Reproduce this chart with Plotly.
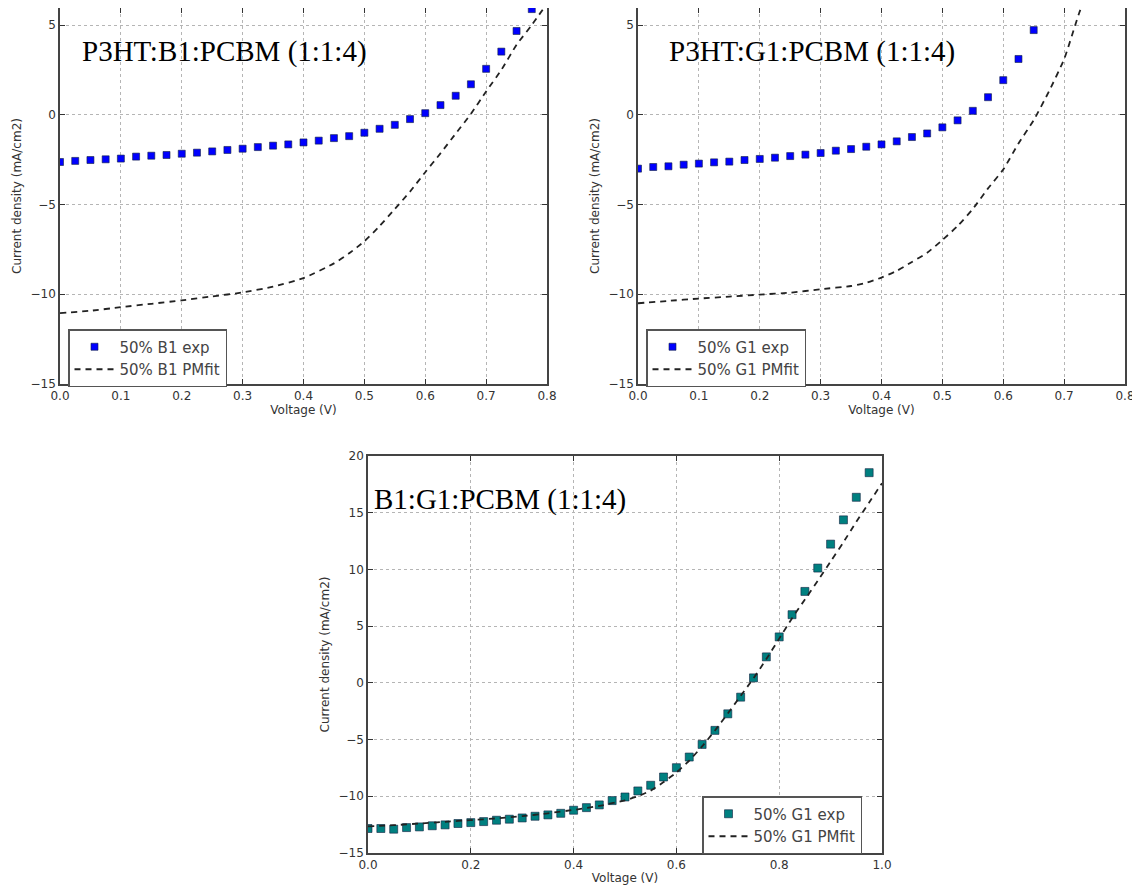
import plotly.graph_objects as go

# ---------------- data ----------------
# Panel 1: P3HT:B1:PCBM (1:1:4)
b1_exp_v = [0.0, 0.025, 0.05, 0.075, 0.1, 0.125, 0.15, 0.175, 0.2, 0.225, 0.25, 0.275,
            0.3, 0.325, 0.35, 0.375, 0.4, 0.425, 0.45, 0.475, 0.5, 0.525, 0.55, 0.575,
            0.6, 0.625, 0.65, 0.675, 0.7, 0.725, 0.75, 0.775]
b1_exp_j = [-2.63, -2.57, -2.52, -2.48, -2.44, -2.33, -2.28, -2.24, -2.17, -2.11, -2.04, -1.96,
            -1.89, -1.80, -1.72, -1.65, -1.54, -1.44, -1.30, -1.19, -1.00, -0.78, -0.56, -0.24,
            0.09, 0.54, 1.06, 1.70, 2.56, 3.52, 4.67, 5.89]
b1_fit_v = [0.0, 0.05, 0.1, 0.15, 0.2, 0.25, 0.3, 0.35, 0.4, 0.45, 0.475, 0.5, 0.525, 0.55,
            0.575, 0.6, 0.625, 0.65, 0.675, 0.7, 0.725, 0.75, 0.775, 0.8]
b1_fit_j = [-11.05, -10.92, -10.72, -10.53, -10.34, -10.12, -9.90, -9.58, -9.10, -8.28, -7.72,
            -7.05, -6.20, -5.25, -4.28, -3.20, -2.15, -1.05, 0.05, 1.30, 2.50, 3.90, 5.00, 6.20]

# Panel 2: P3HT:G1:PCBM (1:1:4)
g1_exp_v = [0.0, 0.025, 0.05, 0.075, 0.1, 0.125, 0.15, 0.175, 0.2, 0.225, 0.25, 0.275,
            0.3, 0.325, 0.35, 0.375, 0.4, 0.425, 0.45, 0.475, 0.5, 0.525, 0.55, 0.575,
            0.6, 0.625, 0.65]
g1_exp_j = [-3.00, -2.91, -2.87, -2.78, -2.72, -2.65, -2.61, -2.52, -2.46, -2.39, -2.30, -2.22,
            -2.13, -2.00, -1.91, -1.78, -1.65, -1.48, -1.24, -1.04, -0.70, -0.31, 0.22, 0.98,
            1.93, 3.11, 4.72]
g1_fit_v = [0.0, 0.05, 0.1, 0.15, 0.2, 0.25, 0.3, 0.35, 0.375, 0.4, 0.425, 0.45, 0.475, 0.5,
            0.525, 0.55, 0.575, 0.6, 0.625, 0.65, 0.675, 0.7, 0.725, 0.74]
g1_fit_j = [-10.50, -10.37, -10.24, -10.13, -10.02, -9.91, -9.72, -9.54, -9.36, -9.07, -8.70,
            -8.20, -7.69, -6.98, -6.20, -5.25, -4.10, -3.05, -1.60, -0.30, 1.30, 3.10, 5.70, 7.00]

# Panel 3: B1:G1:PCBM (1:1:4)
bg_exp_v = [0.0, 0.025, 0.05, 0.075, 0.1, 0.125, 0.15, 0.175, 0.2, 0.225, 0.25, 0.275,
            0.3, 0.325, 0.35, 0.375, 0.4, 0.425, 0.45, 0.475, 0.5, 0.525, 0.55, 0.575,
            0.6, 0.625, 0.65, 0.675, 0.7, 0.725, 0.75, 0.775, 0.8, 0.825, 0.85, 0.875,
            0.9, 0.925, 0.95, 0.975]
bg_exp_j = [-12.84, -12.84, -12.90, -12.76, -12.70, -12.60, -12.52, -12.40, -12.32, -12.23,
            -12.11, -12.02, -11.91, -11.76, -11.64, -11.50, -11.23, -11.00, -10.76, -10.38,
            -10.06, -9.53, -9.03, -8.30, -7.48, -6.54, -5.43, -4.19, -2.73, -1.26, 0.44, 2.29,
            4.05, 6.01, 8.06, 10.12, 12.23, 14.37, 16.36, 18.53]
bg_fit_v = [0.0, 0.05, 0.1, 0.15, 0.2, 0.25, 0.3, 0.35, 0.4, 0.45, 0.5, 0.525, 0.55, 0.575,
            0.6, 0.625, 0.65, 0.675, 0.7, 0.725, 0.75, 0.775, 0.8, 0.825, 0.85, 0.875, 0.9,
            0.925, 0.95, 0.975, 1.0]
bg_fit_j = [-12.65, -12.55, -12.40, -12.25, -12.10, -11.95, -11.75, -11.50, -11.20, -10.85,
            -10.35, -10.00, -9.50, -8.75, -7.90, -6.85, -5.60, -4.20, -2.70, -1.15, 0.40, 2.10,
            3.90, 5.70, 7.35, 9.00, 10.70, 12.40, 14.20, 15.90, 17.60]

titles = ["P3HT:B1:PCBM (1:1:4)", "P3HT:G1:PCBM (1:1:4)", "B1:G1:PCBM (1:1:4)"]
exp_names = ["50% B1 exp", "50% G1 exp", "50% G1 exp"]
fit_names = ["50% B1 PMfit", "50% G1 PMfit", "50% G1 PMfit"]

# ---------------- styling ----------------
OFF = 8                      # page body margin of the html wrapper
W, H = 1140 - OFF, 894 - OFF


def px(x):
    return min(1.0, max(0.0, (x - OFF) / W))


def py(y):
    return min(1.0, max(0.0, 1 - (y - OFF) / H))


tick_font = dict(family="DejaVu Sans", size=12, color="#333")
title_font = dict(family="DejaVu Sans", size=12, color="#333")
leg_font = dict(family="DejaVu Sans", size=15, color="#444")

fig = go.Figure()

panels = [
    dict(ax="", xd=[px(60), px(547)], yd=[py(384), py(8)], xr=[0, 0.8], yr=[-15, 5.95],
         dx=0.1, color="#0000ff", ev=b1_exp_v, ej=b1_exp_j, fv=b1_fit_v, fj=b1_fit_j,
         leg=dict(x=px(68), y=py(329), xanchor="left", yanchor="top"),
         tx=px(80), ty=py(51)),
    dict(ax="2", xd=[px(638), px(1125)], yd=[py(384), py(8)], xr=[0, 0.8], yr=[-15, 5.95],
         dx=0.1, color="#0000ff", ev=g1_exp_v, ej=g1_exp_j, fv=g1_fit_v, fj=g1_fit_j,
         leg=dict(x=px(646), y=py(329), xanchor="left", yanchor="top"),
         tx=px(667), ty=py(51)),
    dict(ax="3", xd=[px(368), px(882)], yd=[py(853), py(456)], xr=[0, 1.0], yr=[-15, 20],
         dx=0.2, color="#008080", ev=bg_exp_v, ej=bg_exp_j, fv=bg_fit_v, fj=bg_fit_j,
         leg=dict(x=px(702), y=py(796), xanchor="left", yanchor="top"),
         tx=px(372), ty=py(500)),
]

layout = dict(
    width=W, height=H,
    margin=dict(l=0, r=0, t=0, b=0, autoexpand=False),
    paper_bgcolor="white", plot_bgcolor="white",
    showlegend=True,
    annotations=[],
)

for i, p in enumerate(panels):
    a = p["ax"]
    legname = "legend" + a
    fig.add_trace(go.Scatter(
        x=p["ev"], y=p["ej"], mode="markers", name=exp_names[i],
        marker=dict(symbol="square", size=8 if i == 2 else 7, color=p["color"],
                    line=dict(width=0.6, color="#102040")),
        xaxis="x" + a, yaxis="y" + a, legend=legname, cliponaxis=True,
    ))
    fig.add_trace(go.Scatter(
        x=p["fv"], y=p["fj"], mode="lines", name=fit_names[i],
        line=dict(color="#222", width=1.8, dash="6px,5px", shape="spline", smoothing=0.5),
        xaxis="x" + a, yaxis="y" + a, legend=legname,
    ))
    common = dict(showline=True, linecolor="#444", linewidth=1.5, mirror="ticks",
                  ticks="inside", ticklen=5, tickcolor="#333", tickwidth=1,
                  showgrid=True, gridcolor="#b5b5b5", griddash="dot", gridwidth=1,
                  zeroline=False, tickfont=tick_font, automargin=False)
    layout["xaxis" + a] = dict(common, domain=p["xd"], range=p["xr"], dtick=p["dx"], tick0=0,
                               tickformat=".1f", anchor="y" + a,
                               title=dict(text="Voltage (V)", font=title_font, standoff=2))
    layout["yaxis" + a] = dict(common, domain=p["yd"], range=p["yr"], dtick=5, tick0=0,
                               anchor="x" + a,
                               title=dict(text="Current density (mA/cm2)", font=title_font,
                                          standoff=6))
    layout[legname] = dict(p["leg"], bgcolor="white", bordercolor="#555", borderwidth=1.5,
                           font=leg_font, itemwidth=40, tracegroupgap=2)
    layout["annotations"].append(dict(
        text=titles[i], xref="paper", yref="paper", x=p["tx"], y=p["ty"],
        xanchor="left", yanchor="middle", showarrow=False,
        font=dict(family="Liberation Serif", size=29, color="black"),
    ))

fig.update_layout(layout)
fig.write_html("out.html")
